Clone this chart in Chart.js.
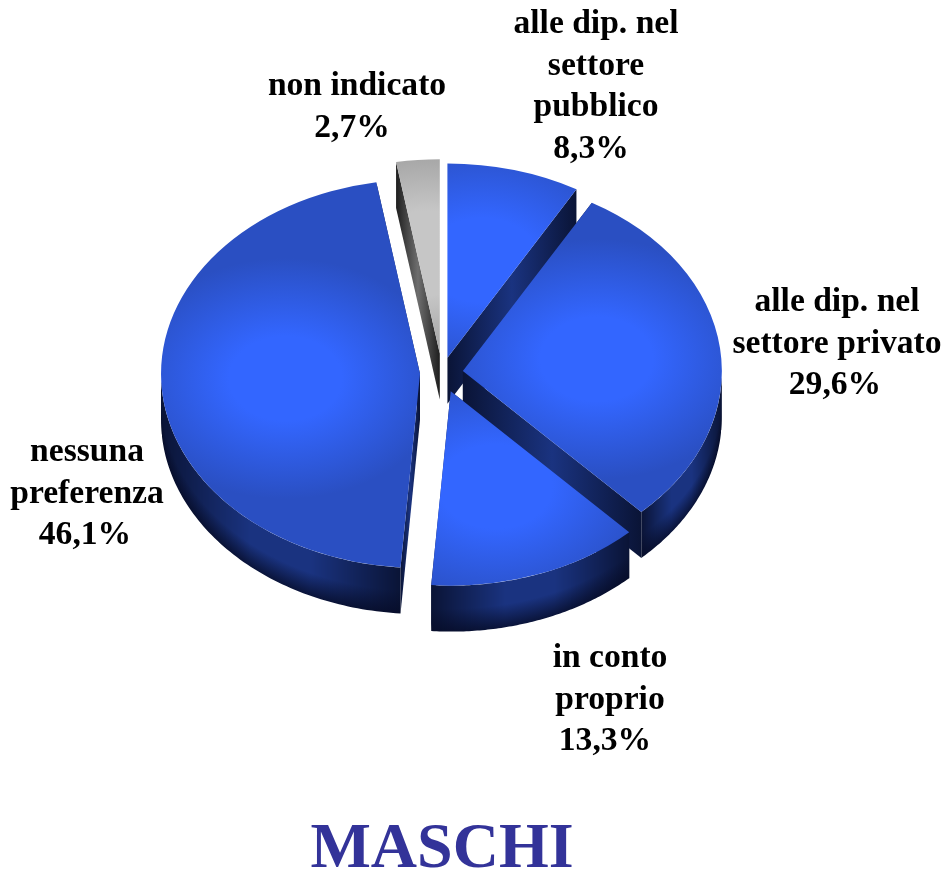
<!DOCTYPE html>
<html>
<head>
<meta charset="utf-8">
<style>html,body{margin:0;padding:0;background:#fff}canvas{display:block}</style>
<script src="https://cdn.jsdelivr.net/npm/chart.js@4"></script>
</head>
<body>
<canvas id="c" width="946" height="869"></canvas>
<script>
const categories = [
  ['alle dip. nel','settore','pubblico'],
  ['alle dip. nel','settore privato'],
  ['in conto','proprio'],
  ['nessuna','preferenza'],
  ['non indicato']
];
const shares = [8.3, 29.6, 13.3, 46.1, 2.7];
const chartTitle = 'MASCHI';

const explode = [21, 21, 26, 22, 26];
const tops = ['#3366ff','#3366ff','#3366ff','#3366ff','#c6c6c6'];
const rims = ['#2a4fc2','#2a4fc2','#2a4fc2','#2a4fc2','#989898'];
const sideDark = [[10,20,54],[10,20,54],[10,20,54],[10,20,54],[30,30,30]];
const sideMid = [[26,51,128],[26,51,128],[26,51,128],[26,51,128],[110,110,110]];
const floorShade = [[6,12,40],[6,12,40],[6,12,40],[6,12,40],[20,20,20]];

const R = 259, K = 0.75, DEPTH = 46, CX = 442, CY = 373;
const paintOrder = [4, 0, 3, 1, 2];
const labelPlace = [[596,33],[837,311],[610,667],[87,461],[357,95]];
const valueShift = [-5,-2,-5,-2,-5];
const LINE = 41.5;

function rgb(c) { return 'rgb(' + c.map(Math.round).join(',') + ')'; }
function mix(a, b, t) { return a.map((v, n) => v + (b[n] - v) * t); }
function pt(mid, o, a, d) {
  return [CX + o * Math.cos(mid) + R * Math.cos(a),
          CY + K * (o * Math.sin(mid) + R * Math.sin(a)) + d];
}
function cutFace(ctx, mid, o, a, i) {
  const ax = CX + o * Math.cos(mid), ay = CY + K * o * Math.sin(mid);
  const p = pt(mid, o, a, 0);
  ctx.beginPath();
  ctx.moveTo(ax, ay); ctx.lineTo(p[0], p[1]);
  ctx.lineTo(p[0], p[1] + DEPTH); ctx.lineTo(ax, ay + DEPTH);
  ctx.closePath();
  const g = ctx.createLinearGradient(ax, 0, p[0], 0);
  g.addColorStop(0, rgb(sideDark[i])); g.addColorStop(0.5, rgb(sideMid[i])); g.addColorStop(1, rgb(sideDark[i]));
  ctx.fillStyle = g;
  ctx.fill();
}
function rimFace(ctx, mid, o, a0, a1, i) {
  const from = Math.max(a0, 0), to = Math.min(a1, Math.PI);
  if (to <= from) return;
  const steps = 80;
  const xc = CX + o * Math.cos(mid), yc = CY + K * o * Math.sin(mid);
  ctx.save();
  ctx.beginPath();
  for (let s = 0; s <= steps; s++) {
    const p = pt(mid, o, from + (to - from) * s / steps, 0);
    s ? ctx.lineTo(p[0], p[1]) : ctx.moveTo(p[0], p[1]);
  }
  for (let s = steps; s >= 0; s--) {
    const p = pt(mid, o, from + (to - from) * s / steps, DEPTH);
    ctx.lineTo(p[0], p[1]);
  }
  ctx.closePath();
  ctx.clip();
  const x0 = pt(mid, o, from, 0)[0], x1 = pt(mid, o, to, 0)[0];
  const xa = Math.min(x0, x1), xb = Math.max(x0, x1);
  for (let x = Math.floor(xa); x < Math.ceil(xb); x++) {
    const u = (x + 0.5 - xa) / (xb - xa);
    const t = Math.max(0, (Math.abs(2 * u - 1) - 0.25) / 0.75);
    const c = mix(sideMid[i], sideDark[i], Math.min(1, t));
    const cc = Math.max(-1, Math.min(1, (x + 0.5 - xc) / R));
    const yTop = yc + K * R * Math.sqrt(1 - cc * cc);
    const g = ctx.createLinearGradient(0, yTop, 0, yTop + DEPTH);
    g.addColorStop(0, rgb(c));
    g.addColorStop(0.5, rgb(c));
    g.addColorStop(1, rgb(mix(c, floorShade[i], 0.8)));
    ctx.fillStyle = g;
    ctx.fillRect(x, yTop - 3, 1, DEPTH + 6);
  }
  ctx.restore();
}

const pie3d = {
  id: 'pie3d',
  beforeDatasetsDraw(chart) {
    const ctx = chart.ctx;
    const arcs = chart.getDatasetMeta(0).data;
    arcs.forEach(el => {
      if (el.$a0 === undefined) { el.$a0 = el.startAngle; el.$a1 = el.endAngle; }
    });
    ctx.save();
    paintOrder.forEach(i => {
      const el = arcs[i];
      const mid = (el.$a0 + el.$a1) / 2, o = el.options.offset / 4;
      cutFace(ctx, mid, o, el.$a0, i);
      cutFace(ctx, mid, o, el.$a1, i);
      rimFace(ctx, mid, o, el.$a0, el.$a1, i);
      rimFace(ctx, mid, o, el.$a0 - 2 * Math.PI, el.$a1 - 2 * Math.PI, i);
    });
    const first = arcs[0];
    ctx.translate(CX, CY); ctx.scale(1, K); ctx.translate(-first.x, -first.y);
    arcs.forEach((el, i) => {
      const mid = (el.$a0 + el.$a1) / 2, o = el.options.offset / 4;
      const circ = el.$a1 - el.$a0;
      const grow = o * (1 - Math.sin(Math.min(Math.PI, circ)));
      el.outerRadius = R - grow;
      const trim = grow / Math.PI / R / 2;
      el.startAngle = el.$a0 - trim;
      el.endAngle = el.$a1 + trim;
      const gx = el.x + Math.cos(mid) * R * 0.52, gy = el.y + Math.sin(mid) * R * 0.52;
      const g = ctx.createRadialGradient(gx, gy, 0, gx, gy, R * 0.62);
      g.addColorStop(0, tops[i]); g.addColorStop(0.35, tops[i]); g.addColorStop(1, rims[i]);
      el.options.backgroundColor = g;
    });
  },
  afterDatasetsDraw(chart) {
    const ctx = chart.ctx;
    ctx.restore();
    ctx.save();
    ctx.font = 'bold 33.6px "Liberation Serif"';
    ctx.fillStyle = '#000';
    ctx.textAlign = 'center';
    ctx.textBaseline = 'alphabetic';
    categories.forEach((lines, i) => {
      const [x, y] = labelPlace[i];
      lines.forEach((t, n) => ctx.fillText(t, x, y + n * LINE));
      ctx.fillText(String(shares[i]).replace('.', ',') + '%', x + valueShift[i], y + lines.length * LINE);
    });
    ctx.restore();
  }
};

new Chart(document.getElementById('c'), {
  type: 'pie',
  data: {
    labels: categories.map(l => l.join(' ')),
    datasets: [{
      data: shares,
      backgroundColor: tops,
      offset: explode.map(v => v * 4),
      borderWidth: 0,
      clip: false
    }]
  },
  options: {
    responsive: false,
    animation: false,
    radius: R,
    layout: { padding: { left: 0, right: 62, top: 0, bottom: 0 } },
    plugins: {
      legend: { display: false },
      tooltip: { enabled: false },
      title: {
        display: true,
        text: chartTitle,
        position: 'bottom',
        color: '#333399',
        font: { family: '"Liberation Serif"', size: 64, weight: 'bold', lineHeight: 1 },
        padding: { top: 0, bottom: -13 }
      }
    }
  },
  plugins: [pie3d]
});
</script>
</body>
</html>
